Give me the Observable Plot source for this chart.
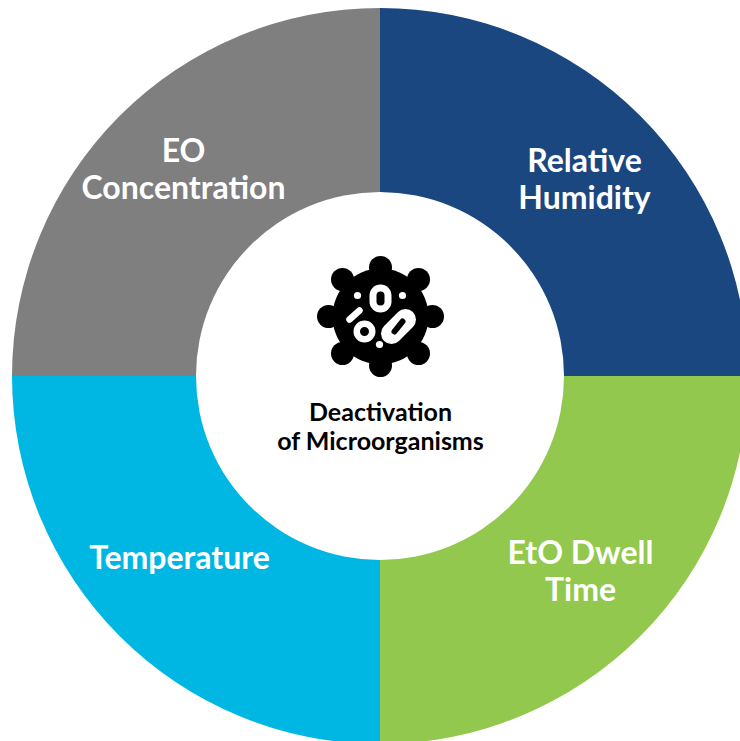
<!DOCTYPE html>
<html>
<head>
<meta charset="utf-8">
<script src="https://cdn.jsdelivr.net/npm/d3@7"></script>
<script src="https://cdn.jsdelivr.net/npm/@observablehq/plot@0.6"></script>
<style>
  html, body { margin: 0; padding: 0; background: #fff; overflow: hidden; }
  svg { display: block; }
</style>
</head>
<body>
<div id="chart"></div>
<script>
// Four equal factors, clockwise from twelve o'clock
const factors = ["Relative\nHumidity", "EtO Dwell\nTime", "Temperature", "EO\nConcentration"];
const shares = [25, 25, 25, 25];
const sliceColors = ["#1a4780", "#92c84d", "#00b7e3", "#7f7f7f"];
const centerLabel = "Deactivation\nof Microorganisms";

// Label anchors, offset from the ring's centre
const factorLabelX = [204, 200, -201, -197];
const factorLabelY = [-198, 194, 181, -208];

// Microbe glyph, offset from the ring's centre
const knobX = [0, 38, 52, 38, 0, -38, -52, -38];
const knobY = [-109, -97, -60, -23, -11, -23, -60, -97];
const holeX = [-23, 22, -1];
const holeY = [-81, -81, -32];

const outerRadius = 368;
const innerRadius = 184;

const pieSlices = d3.pie().sort(null)(shares).map((s, i) => ({...s, color: sliceColors[i]}));

// Ring sectors: d3.arc paths placed through the plot's position scales
function ringSectors(index, {x, y}, values, dimensions) {
  const k = x(1) - x(0);
  const arc = d3.arc().innerRadius(innerRadius * k).outerRadius(outerRadius * k);
  const g = d3.create("svg:g").attr("transform", `translate(${x(0)},${y(0)})`);
  g.selectAll("path").data(pieSlices).join("path")
    .attr("d", arc)
    .attr("fill", d => d.color);
  return g.node();
}

const factorRows = factors.map((label, i) => ({label, x: factorLabelX[i], y: factorLabelY[i]}));
const knobRows = knobX.map((x, i) => ({x, y: knobY[i]}));
const holeRows = holeX.map((x, i) => ({x, y: holeY[i]}));

const segment = {x1: "x1", y1: "y1", x2: "x2", y2: "y2", strokeLinecap: "round"};

const chart = Plot.plot({
  width: 740,
  height: 741,
  margin: 0,
  x: {domain: [-380, 360], range: [0, 740], axis: null},
  y: {domain: [-376, 365], range: [0, 741], axis: null},
  style: {background: "#fff"},
  marks: [
    Plot.dot(pieSlices, {x: () => 0, y: () => 0, render: ringSectors}),

    // Category names
    Plot.text(factorRows, {
      x: "x", y: "y", text: "label", fill: "#fff",
      fontFamily: "Lato", fontWeight: 700, fontSize: 32, lineHeight: 1.16
    }),

    // Microbe body, arms and knobs
    Plot.link(knobRows, {x1: () => 0, y1: () => -60, x2: "x", y2: "y", stroke: "#000", strokeWidth: 19}),
    Plot.dot([{x: 0, y: -60}], {x: "x", y: "y", r: 48, fill: "#000"}),
    Plot.dot(knobRows, {x: "x", y: "y", r: 11.5, fill: "#000"}),

    // Capsules and rings inside the body
    Plot.link([{x1: 0, y1: -81, x2: 0, y2: -75}], {...segment, stroke: "#fff", strokeWidth: 22}),
    Plot.link([{x1: 0, y1: -81, x2: 0, y2: -75}], {...segment, stroke: "#000", strokeWidth: 8}),
    Plot.link([{x1: 11, y1: -43, x2: 25, y2: -57}], {...segment, stroke: "#fff", strokeWidth: 21}),
    Plot.link([{x1: 14, y1: -45, x2: 22, y2: -55}], {...segment, stroke: "#000", strokeWidth: 6}),
    Plot.link([{x1: -31, y1: -57, x2: -21, y2: -66}], {...segment, stroke: "#fff", strokeWidth: 6.5}),
    Plot.dot([{x: -16, y: -45}], {x: "x", y: "y", r: 7.75, stroke: "#fff", strokeWidth: 6.5, fill: "#000"}),
    Plot.dot(holeRows, {x: "x", y: "y", r: 3.6, fill: "#fff"}),

    // Centre caption
    Plot.text([centerLabel], {
      x: () => 0, y: () => 50, text: d => d, fill: "#000",
      fontFamily: "Lato", fontWeight: 700, fontSize: 25, lineHeight: 1.16
    })
  ]
});

document.getElementById("chart").append(chart);
</script>
</body>
</html>
